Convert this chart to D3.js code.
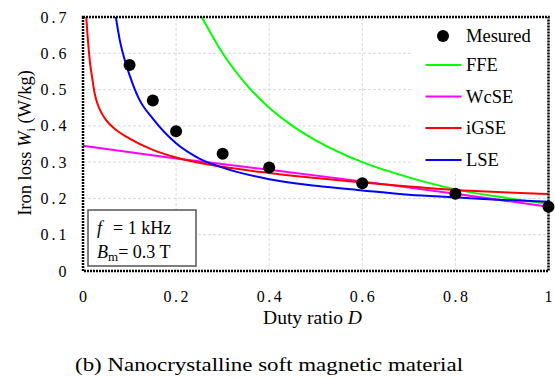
<!DOCTYPE html>
<html><head><meta charset="utf-8">
<script src="https://cdn.jsdelivr.net/npm/d3@7"></script>
<style>
body{margin:0;background:#fff;}
svg text{font-family:'Liberation Serif','DejaVu Serif',serif;}
</style></head>
<body><svg id="c" width="555" height="378" font-family="Liberation Serif, DejaVu Serif, serif"></svg>
<script>
// Data
const xTicks = [0, 0.2, 0.4, 0.6, 0.8, 1];
const xTickLabels = ["0", "0.2", "0.4", "0.6", "0.8", "1"];
const yTicks = [0, 0.1, 0.2, 0.3, 0.4, 0.5, 0.6, 0.7];
const yTickLabels = ["0", "0.1", "0.2", "0.3", "0.4", "0.5", "0.6", "0.7"];

const measuredD = [0.1, 0.15, 0.2, 0.3, 0.4, 0.6, 0.8, 1.0];
const measuredW = [0.568, 0.470, 0.385, 0.323, 0.285, 0.242, 0.213, 0.177];

const ffeD = [0.255, 0.3, 0.35, 0.4, 0.45, 0.5, 0.6, 0.7, 0.8, 0.9, 1.0];
const ffeW = [0.70, 0.60, 0.515, 0.45, 0.40, 0.36, 0.30, 0.258, 0.225, 0.203, 0.185];

const wcseD = [0, 0.2, 0.4, 0.6, 0.8, 1.0];
const wcseW = [0.345, 0.31, 0.279, 0.247, 0.213, 0.177];

const igseD = [0.007, 0.01, 0.015, 0.02, 0.025, 0.03, 0.04, 0.05, 0.07, 0.1, 0.15, 0.2, 0.3, 0.4, 0.5, 0.6, 0.7, 0.8, 0.9, 1.0];
const igseW = [0.70, 0.645, 0.575, 0.53, 0.49, 0.465, 0.435, 0.415, 0.39, 0.365, 0.334, 0.313, 0.287, 0.27, 0.256, 0.244, 0.233, 0.223, 0.217, 0.212];

const lseD = [0.0705, 0.08, 0.09, 0.1, 0.12, 0.15, 0.2, 0.25, 0.3, 0.4, 0.5, 0.6, 0.7, 0.8, 0.9, 1.0];
const lseW = [0.70, 0.63, 0.58, 0.54, 0.475, 0.42, 0.352, 0.31, 0.285, 0.253, 0.235, 0.222, 0.21, 0.203, 0.196, 0.191];

const seriesNames = ["FFE", "WcSE", "iGSE", "LSE"];
const seriesColors = ["#00ff00", "#ff00ff", "#ff0000", "#0000ff"];

const FONT = "Liberation Serif, DejaVu Serif, serif";
const svg = d3.select("#c");
const x = d3.scaleLinear().domain([0, 1]).range([83, 548.5]);
const y = d3.scaleLinear().domain([0, 0.7]).range([271, 17]);

// grid
const grid = svg.append("g");
grid.selectAll(".gx").data(xTicks.slice(1, -1)).join("line")
  .attr("x1", d => x(d)).attr("x2", d => x(d)).attr("y1", y(0)).attr("y2", y(0.7))
  .attr("stroke", "#d9d9d9").attr("stroke-width", 1).attr("stroke-dasharray", "3,2");
grid.selectAll(".gy").data(yTicks.slice(1, -1)).join("line")
  .attr("x1", x(0)).attr("x2", x(1)).attr("y1", d => y(d)).attr("y2", d => y(d))
  .attr("stroke", "#d9d9d9").attr("stroke-width", 1).attr("stroke-dasharray", "3,2");

// legend background
svg.append("rect").attr("x", 411).attr("y", y(0.7)).attr("width", x(1) - 411).attr("height", 174 - y(0.7)).attr("fill", "#fff");

// clip
svg.append("clipPath").attr("id", "clip").append("rect")
  .attr("x", x(0)).attr("y", y(0.7)).attr("width", x(1) - x(0)).attr("height", y(0) - y(0.7));

const line = d3.line().x(d => x(d[0])).y(d => y(d[1])).curve(d3.curveMonotoneX);
const seriesData = [
  d3.zip(ffeD, ffeW), d3.zip(wcseD, wcseW), d3.zip(igseD, igseW), d3.zip(lseD, lseW)
];
const curves = svg.append("g").attr("clip-path", "url(#clip)");
curves.selectAll("path").data(seriesData).join("path")
  .attr("d", line).attr("fill", "none")
  .attr("stroke", (d, i) => seriesColors[i]).attr("stroke-width", 2);

// frame (dotted)
svg.append("rect").attr("x", x(0)).attr("y", y(0.7)).attr("width", x(1) - x(0)).attr("height", y(0) - y(0.7))
  .attr("fill", "none").attr("stroke", "#000").attr("stroke-width", 2.5).attr("stroke-dasharray", "2,1");

// measured dots
svg.append("g").selectAll("circle").data(d3.zip(measuredD, measuredW)).join("circle")
  .attr("cx", d => x(d[0])).attr("cy", d => y(d[1])).attr("r", 6).attr("fill", "#000");

// tick labels
svg.append("g").selectAll("text").data(yTicks).join("text")
  .attr("x", 66.5).attr("y", d => y(d) + 5.5).attr("text-anchor", "end")
  .attr("font-family", FONT).attr("font-size", 16)
  .each(function(d, i) {
    const t = d3.select(this).text(yTickLabels[i]);
    if (yTickLabels[i].length > 1) t.attr("textLength", 26);
  });
svg.append("g").selectAll("text").data(xTicks).join("text")
  .attr("x", d => x(d)).attr("y", 301.5).attr("text-anchor", "middle")
  .attr("font-family", FONT).attr("font-size", 16)
  .each(function(d, i) {
    const t = d3.select(this).text(xTickLabels[i]);
    if (xTickLabels[i].length > 1) t.attr("textLength", 25);
  });

// axis titles
const xt = svg.append("text").attr("x", 312.5).attr("y", 324).attr("text-anchor", "middle")
  .attr("font-family", FONT).attr("font-size", 18).attr("textLength", 99).attr("lengthAdjust", "spacingAndGlyphs");
xt.append("tspan").text("Duty ratio ");
xt.append("tspan").attr("font-style", "italic").text("D");

const yt = svg.append("text").attr("transform", "translate(31,143) rotate(-90)")
  .attr("text-anchor", "middle").attr("font-family", FONT).attr("font-size", 18.5);
yt.append("tspan").text("Iron loss ");
yt.append("tspan").attr("font-style", "italic").text("W");
yt.append("tspan").attr("font-size", 12).attr("dy", 4).text("i");
yt.append("tspan").attr("dy", -4).text(" (W/kg)");

// legend
const lg = svg.append("g");
const legY = [36, 65, 96.5, 128, 160];
lg.append("circle").attr("cx", 443).attr("cy", legY[0]).attr("r", 6).attr("fill", "#000");
lg.append("text").attr("x", 466).attr("y", legY[0] + 6).attr("font-family", FONT).attr("font-size", 18.5).text("Mesured");
seriesNames.forEach((n, i) => {
  const yy = legY[i + 1];
  lg.append("line").attr("x1", 425.5).attr("x2", 461.5).attr("y1", yy).attr("y2", yy)
    .attr("stroke", seriesColors[i]).attr("stroke-width", 2);
  lg.append("text").attr("x", 466).attr("y", yy + 6).attr("font-family", FONT).attr("font-size", 18.5).text(n);
});

// info box
svg.append("rect").attr("x", 88).attr("y", 210).attr("width", 108).attr("height", 56)
  .attr("fill", "#fff").attr("stroke", "#555").attr("stroke-width", 1.5);
const t1 = svg.append("text").attr("x", 97).attr("y", 234).attr("font-family", FONT).attr("font-size", 18);
t1.append("tspan").attr("font-style", "italic").text("f");
t1.append("tspan").attr("x", 113).text("= 1 kHz");
const t2 = svg.append("text").attr("x", 97).attr("y", 258).attr("font-family", FONT).attr("font-size", 18);
t2.append("tspan").attr("font-style", "italic").text("B");
t2.append("tspan").attr("font-size", 13).attr("dy", 3).text("m");
t2.append("tspan").attr("dy", -3).text("= 0.3 T");

// caption
svg.append("text").attr("x", 269).attr("y", 371).attr("text-anchor", "middle")
  .attr("font-family", FONT).attr("font-size", 18).attr("textLength", 388).attr("lengthAdjust", "spacingAndGlyphs")
  .text("(b) Nanocrystalline soft magnetic material");
</script></body></html>
